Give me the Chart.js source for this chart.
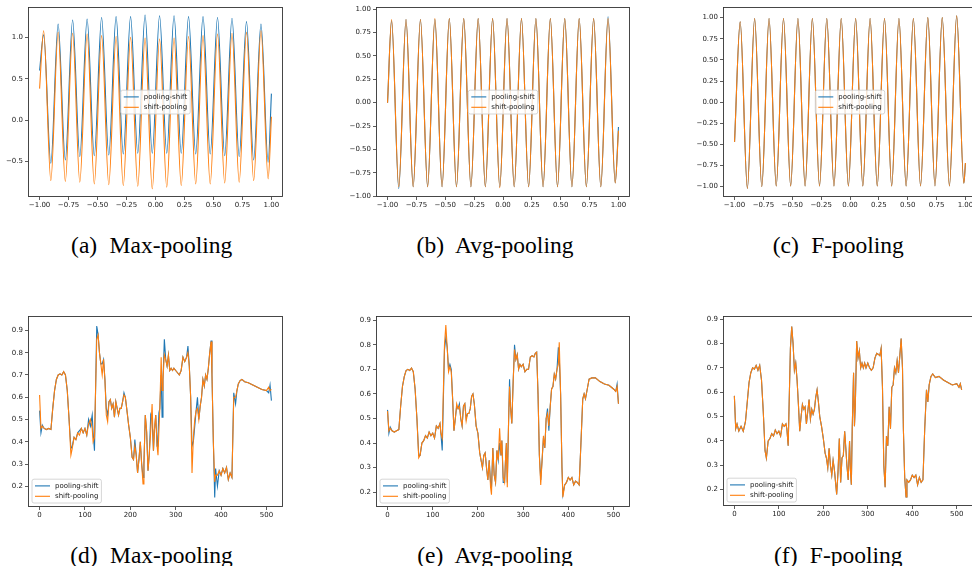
<!DOCTYPE html>
<html>
<head>
<meta charset="utf-8">
<script src="https://cdn.jsdelivr.net/npm/chart.js@4.4.0/dist/chart.umd.min.js"></script>
<style>
  body { margin: 0; width: 972px; height: 566px; overflow: hidden; background: #fff; position: relative; }
  canvas { position: absolute; }
  .cap { position: absolute; font-family: "Liberation Serif", "Times New Roman", serif; font-size: 23.5px;
         line-height: 1; word-spacing: 6.5px; white-space: nowrap; transform: translateX(-50%); color: #000; }
</style>
</head>
<body>
<canvas id="chart-a"></canvas>
<canvas id="chart-b"></canvas>
<canvas id="chart-c"></canvas>
<canvas id="chart-d"></canvas>
<canvas id="chart-e"></canvas>
<canvas id="chart-f"></canvas>
<script>
// Top row: x positions of start, peaks/troughs and end of the waves
const topXsAB = [-1.0, -0.965, -0.903, -0.840, -0.778, -0.715, -0.653, -0.590, -0.528, -0.465, -0.403,
  -0.340, -0.278, -0.215, -0.153, -0.090, -0.028, 0.035, 0.097, 0.160, 0.222, 0.285, 0.347,
  0.410, 0.472, 0.535, 0.597, 0.660, 0.722, 0.785, 0.847, 0.910, 0.972, 1.0];
const topXsC = [-1.0, -0.951, -0.889, -0.826, -0.764, -0.701, -0.639, -0.576, -0.514, -0.451, -0.389,
  -0.326, -0.264, -0.201, -0.139, -0.076, -0.014, 0.049, 0.111, 0.174, 0.236, 0.299, 0.361,
  0.424, 0.486, 0.549, 0.611, 0.674, 0.736, 0.799, 0.861, 0.924, 0.986, 1.0];

// (a) Max-pooling
const aPoolShift = [0.60, 1.03, -0.52, 1.16, -0.48, 1.21, -0.44, 1.22, -0.43, 1.24, -0.42, 1.25, -0.41,
  1.25, -0.40, 1.27, -0.40, 1.26, -0.40, 1.26, -0.40, 1.25, -0.41, 1.25, -0.41, 1.24, -0.43,
  1.23, -0.44, 1.19, -0.48, 1.16, -0.51, 0.32];
const aShiftPool = [0.38, 1.08, -0.73, 1.06, -0.74, 1.05, -0.75, 1.04, -0.77, 1.02, -0.78, 1.01, -0.79,
  1.00, -0.80, 0.99, -0.83, 0.98, -0.81, 0.99, -0.79, 1.01, -0.77, 1.02, -0.77, 1.04, -0.76,
  1.05, -0.75, 1.06, -0.73, 1.08, -0.71, 0.04];
// (b) Avg-pooling
const bPoolShift = [0.0, 0.88, -0.92, 0.89, -0.90, 0.89, -0.90, 0.89, -0.90, 0.90, -0.90, 0.90, -0.90,
  0.90, -0.90, 0.90, -0.90, 0.90, -0.90, 0.90, -0.90, 0.90, -0.90, 0.90, -0.90, 0.90, -0.90,
  0.90, -0.90, 0.90, -0.90, 0.92, -0.86, -0.26];
const bShiftPool = [0.0, 0.89, -0.90, 0.89, -0.90, 0.89, -0.90, 0.90, -0.90, 0.90, -0.90, 0.90, -0.90,
  0.90, -0.90, 0.90, -0.91, 0.90, -0.90, 0.90, -0.90, 0.90, -0.90, 0.90, -0.90, 0.90, -0.90,
  0.90, -0.90, 0.90, -0.90, 0.90, -0.86, -0.30];
// (c) F-pooling
const cPoolShift = [-0.47, 0.95, -1.02, 0.99, -1.00, 0.99, -0.99, 0.99, -0.99, 0.99, -0.99, 0.99, -0.99,
  0.99, -0.99, 0.99, -0.99, 0.99, -0.99, 0.99, -0.99, 0.99, -0.99, 0.99, -0.99, 0.99, -0.99,
  1.00, -0.99, 1.00, -0.99, 1.02, -0.96, -0.72];
const cShiftPool = [-0.47, 0.95, -1.02, 0.99, -1.00, 0.99, -0.99, 0.99, -0.99, 0.99, -0.99, 0.99, -0.99,
  0.99, -0.99, 0.99, -0.99, 0.99, -0.99, 0.99, -0.99, 0.99, -0.99, 0.99, -0.99, 0.99, -0.99,
  1.00, -0.99, 1.00, -0.99, 1.02, -0.96, -0.72];

// Bottom row: sample indices (0..511)
const stepIdx = [0, 3, 6, 10, 15, 20, 25, 29, 33, 37,
  41, 45, 49, 53, 57, 61, 65, 69, 72, 76,
  80, 84, 88, 92, 96, 100, 104, 108, 112, 116,
  118, 121, 126, 129, 132, 135, 138, 141, 144, 147,
  150, 153, 156, 159, 162, 165, 168, 171, 174, 177,
  180, 183, 186, 189, 192, 196, 200, 204, 207, 210,
  213, 216, 219, 222, 225, 228, 230, 233, 236, 239,
  242, 245, 248, 251, 253, 256, 259, 261, 263, 265,
  268, 270, 272, 275, 278, 281, 284, 287, 290, 293,
  296, 300, 304, 308, 312, 316, 320, 324, 327, 330,
  333, 336, 339, 342, 345, 348, 351, 354, 357, 360,
  363, 366, 369, 372, 375, 378, 380, 383, 386, 388,
  392, 396, 400, 404, 408, 412, 416, 420, 424, 428,
  432, 435, 438, 442, 446, 452, 460, 470, 480, 490,
  500, 505, 508, 511];

// (d) Max-pooling
const dPoolShift = [0.54, 0.44, 0.475, 0.46, 0.455, 0.46, 0.455, 0.55, 0.63, 0.68,
  0.70, 0.705, 0.70, 0.715, 0.70, 0.63, 0.50, 0.37, 0.38, 0.42,
  0.41, 0.44, 0.45, 0.46, 0.44, 0.46, 0.43, 0.50, 0.47, 0.52,
  0.44, 0.36, 0.92, 0.88, 0.80, 0.75, 0.75, 0.77, 0.68, 0.55,
  0.52, 0.58, 0.59, 0.55, 0.57, 0.51, 0.58, 0.55, 0.52, 0.55,
  0.55, 0.58, 0.62, 0.60, 0.55, 0.48, 0.42, 0.33, 0.32, 0.41,
  0.34, 0.26, 0.32, 0.40, 0.30, 0.24, 0.30, 0.52, 0.44, 0.27,
  0.35, 0.52, 0.50, 0.36, 0.45, 0.52, 0.38, 0.42, 0.53, 0.55,
  0.70, 0.51, 0.68, 0.86, 0.77, 0.74, 0.79, 0.72, 0.73, 0.72,
  0.73, 0.72, 0.71, 0.70, 0.72, 0.78, 0.76, 0.78, 0.83, 0.74,
  0.60, 0.38, 0.40, 0.47, 0.54, 0.60, 0.50, 0.56, 0.60, 0.68,
  0.65, 0.70, 0.68, 0.73, 0.80, 0.855, 0.70, 0.40, 0.15, 0.28,
  0.20, 0.27, 0.25, 0.28, 0.26, 0.285, 0.23, 0.26, 0.24, 0.62,
  0.57, 0.63, 0.66, 0.675, 0.68, 0.67, 0.665, 0.655, 0.645, 0.635,
  0.63, 0.62, 0.655, 0.585];
const dShiftPool = [0.61, 0.46, 0.47, 0.46, 0.455, 0.46, 0.455, 0.55, 0.63, 0.68,
  0.70, 0.705, 0.70, 0.715, 0.70, 0.63, 0.50, 0.34, 0.37, 0.42,
  0.41, 0.44, 0.43, 0.46, 0.44, 0.46, 0.43, 0.48, 0.50, 0.46,
  0.40, 0.42, 0.86, 0.88, 0.80, 0.75, 0.70, 0.77, 0.68, 0.52,
  0.49, 0.58, 0.59, 0.55, 0.57, 0.51, 0.58, 0.55, 0.52, 0.55,
  0.55, 0.58, 0.61, 0.60, 0.55, 0.48, 0.42, 0.33, 0.32, 0.38,
  0.34, 0.26, 0.32, 0.40, 0.30, 0.21, 0.30, 0.52, 0.45, 0.27,
  0.35, 0.45, 0.57, 0.36, 0.45, 0.52, 0.38, 0.34, 0.45, 0.55,
  0.78, 0.63, 0.68, 0.79, 0.77, 0.74, 0.79, 0.72, 0.73, 0.72,
  0.73, 0.72, 0.71, 0.70, 0.72, 0.78, 0.76, 0.78, 0.80, 0.74,
  0.60, 0.26, 0.42, 0.50, 0.54, 0.55, 0.50, 0.56, 0.60, 0.68,
  0.65, 0.70, 0.68, 0.73, 0.80, 0.85, 0.70, 0.40, 0.22, 0.25,
  0.25, 0.27, 0.25, 0.28, 0.26, 0.285, 0.23, 0.26, 0.24, 0.60,
  0.60, 0.63, 0.66, 0.675, 0.68, 0.67, 0.665, 0.655, 0.645, 0.635,
  0.63, 0.645, 0.63, 0.635];
// (e) Avg-pooling
const ePoolShift = [0.535, 0.44, 0.465, 0.45, 0.445, 0.45, 0.455, 0.55, 0.63, 0.67,
  0.695, 0.70, 0.695, 0.705, 0.69, 0.62, 0.50, 0.35, 0.35, 0.40,
  0.41, 0.43, 0.42, 0.445, 0.43, 0.44, 0.42, 0.47, 0.46, 0.48,
  0.44, 0.37, 0.78, 0.83, 0.79, 0.70, 0.72, 0.70, 0.58, 0.45,
  0.50, 0.55, 0.54, 0.56, 0.50, 0.47, 0.55, 0.56, 0.50, 0.52,
  0.52, 0.54, 0.59, 0.60, 0.56, 0.47, 0.44, 0.36, 0.33, 0.30,
  0.35, 0.36, 0.30, 0.25, 0.33, 0.24, 0.22, 0.38, 0.27, 0.24,
  0.37, 0.33, 0.40, 0.35, 0.41, 0.24, 0.24, 0.33, 0.40, 0.24,
  0.50, 0.66, 0.55, 0.48, 0.65, 0.80, 0.74, 0.76, 0.70, 0.72,
  0.71, 0.72, 0.69, 0.70, 0.70, 0.75, 0.755, 0.75, 0.765, 0.77,
  0.60, 0.35, 0.25, 0.33, 0.42, 0.38, 0.50, 0.54, 0.45, 0.55,
  0.62, 0.63, 0.68, 0.66, 0.70, 0.79, 0.75, 0.60, 0.30, 0.19,
  0.23, 0.24, 0.26, 0.25, 0.26, 0.23, 0.245, 0.24, 0.23, 0.40,
  0.58, 0.60, 0.58, 0.62, 0.66, 0.665, 0.665, 0.65, 0.64, 0.635,
  0.62, 0.61, 0.64, 0.56];
const eShiftPool = [0.53, 0.45, 0.46, 0.45, 0.445, 0.45, 0.455, 0.55, 0.63, 0.67,
  0.695, 0.70, 0.695, 0.705, 0.69, 0.62, 0.50, 0.34, 0.35, 0.40,
  0.41, 0.43, 0.42, 0.445, 0.43, 0.44, 0.42, 0.47, 0.46, 0.48,
  0.44, 0.42, 0.80, 0.88, 0.79, 0.69, 0.71, 0.69, 0.58, 0.45,
  0.50, 0.56, 0.54, 0.55, 0.50, 0.47, 0.55, 0.56, 0.49, 0.52,
  0.52, 0.54, 0.59, 0.60, 0.56, 0.47, 0.44, 0.36, 0.33, 0.30,
  0.35, 0.36, 0.30, 0.25, 0.33, 0.22, 0.19, 0.38, 0.27, 0.24,
  0.37, 0.33, 0.46, 0.35, 0.41, 0.26, 0.24, 0.33, 0.40, 0.22,
  0.50, 0.63, 0.55, 0.48, 0.65, 0.78, 0.74, 0.76, 0.70, 0.72,
  0.71, 0.72, 0.69, 0.70, 0.70, 0.75, 0.755, 0.75, 0.765, 0.77,
  0.60, 0.35, 0.23, 0.33, 0.43, 0.38, 0.50, 0.52, 0.47, 0.55,
  0.62, 0.63, 0.68, 0.66, 0.70, 0.72, 0.81, 0.60, 0.30, 0.18,
  0.23, 0.24, 0.26, 0.25, 0.26, 0.23, 0.245, 0.24, 0.23, 0.40,
  0.58, 0.60, 0.58, 0.62, 0.66, 0.665, 0.665, 0.65, 0.64, 0.635,
  0.62, 0.61, 0.63, 0.56];
// (f) F-pooling (both curves coincide)
const fPoolShift = [0.585, 0.45, 0.47, 0.44, 0.46, 0.44, 0.48, 0.56, 0.64, 0.68,
  0.70, 0.695, 0.71, 0.69, 0.71, 0.65, 0.52, 0.36, 0.33, 0.40,
  0.41, 0.43, 0.42, 0.445, 0.43, 0.44, 0.42, 0.47, 0.46, 0.47,
  0.45, 0.38, 0.78, 0.87, 0.80, 0.69, 0.72, 0.65, 0.55, 0.44,
  0.50, 0.55, 0.53, 0.54, 0.47, 0.52, 0.57, 0.49, 0.53, 0.51,
  0.53, 0.58, 0.61, 0.56, 0.50, 0.46, 0.41, 0.35, 0.33, 0.29,
  0.37, 0.30, 0.26, 0.32, 0.28, 0.22, 0.18, 0.27, 0.41, 0.23,
  0.33, 0.34, 0.44, 0.36, 0.30, 0.24, 0.40, 0.28, 0.22, 0.45,
  0.68, 0.46, 0.55, 0.81, 0.74, 0.77, 0.70, 0.72, 0.70, 0.72,
  0.70, 0.72, 0.70, 0.69, 0.70, 0.74, 0.76, 0.755, 0.75, 0.78,
  0.62, 0.30, 0.21, 0.42, 0.38, 0.54, 0.45, 0.62, 0.63, 0.70,
  0.68, 0.73, 0.68, 0.75, 0.82, 0.70, 0.45, 0.25, 0.17, 0.24,
  0.23, 0.24, 0.26, 0.25, 0.26, 0.22, 0.25, 0.23, 0.24, 0.45,
  0.61, 0.56, 0.63, 0.665, 0.675, 0.66, 0.665, 0.65, 0.64, 0.63,
  0.635, 0.62, 0.635, 0.61];
const fShiftPool = [0.585, 0.45, 0.47, 0.44, 0.46, 0.44, 0.48, 0.56, 0.64, 0.68,
  0.70, 0.695, 0.71, 0.69, 0.71, 0.65, 0.52, 0.36, 0.33, 0.40,
  0.41, 0.43, 0.42, 0.445, 0.43, 0.44, 0.42, 0.47, 0.46, 0.47,
  0.45, 0.38, 0.78, 0.87, 0.80, 0.69, 0.72, 0.65, 0.55, 0.44,
  0.50, 0.55, 0.53, 0.54, 0.47, 0.52, 0.57, 0.49, 0.53, 0.51,
  0.53, 0.58, 0.61, 0.56, 0.50, 0.46, 0.41, 0.35, 0.33, 0.29,
  0.37, 0.30, 0.26, 0.32, 0.28, 0.22, 0.18, 0.27, 0.41, 0.23,
  0.33, 0.34, 0.44, 0.36, 0.30, 0.24, 0.40, 0.28, 0.22, 0.45,
  0.68, 0.46, 0.55, 0.81, 0.74, 0.77, 0.70, 0.72, 0.70, 0.72,
  0.70, 0.72, 0.70, 0.69, 0.70, 0.74, 0.76, 0.755, 0.75, 0.78,
  0.62, 0.30, 0.21, 0.42, 0.38, 0.54, 0.45, 0.62, 0.63, 0.70,
  0.68, 0.73, 0.68, 0.75, 0.82, 0.70, 0.45, 0.25, 0.17, 0.24,
  0.23, 0.24, 0.26, 0.25, 0.26, 0.22, 0.25, 0.23, 0.24, 0.45,
  0.61, 0.56, 0.63, 0.665, 0.675, 0.66, 0.665, 0.65, 0.64, 0.63,
  0.635, 0.62, 0.635, 0.61];

// Tick labels
const topXTicks = [-1, -0.75, -0.5, -0.25, 0, 0.25, 0.5, 0.75, 1];
const aYTicks = [-0.5, 0, 0.5, 1.0];
const bcYTicks = [-1, -0.75, -0.5, -0.25, 0, 0.25, 0.5, 0.75, 1];
const bottomXTicks = [0, 100, 200, 300, 400, 500];
const bottomYTicks = [0.2, 0.3, 0.4, 0.5, 0.6, 0.7, 0.8, 0.9];
const seriesNames = ['pooling-shift', 'shift-pooling'];
const captions = ['(a) Max-pooling', '(b) Avg-pooling', '(c) F-pooling',
  '(d) Max-pooling', '(e) Avg-pooling', '(f) F-pooling'];

Chart.defaults.font.family = '"DejaVu Sans", sans-serif';
Chart.defaults.font.size = 7;
Chart.defaults.color = '#222';

// Frame around the plot area and a matplotlib-like legend box
const frameLegend = {
  id: 'frameLegend',
  afterDatasetsDraw(chart, args, opts) {
    const ctx = chart.ctx, area = chart.chartArea;
    ctx.save();
    ctx.strokeStyle = '#333';
    ctx.lineWidth = 0.9;
    ctx.strokeRect(Math.round(area.left) + 0.5, Math.round(area.top) + 0.5,
      Math.round(area.right - area.left) - 1, Math.round(area.bottom - area.top) - 1);

    ctx.font = '7px "DejaVu Sans"';
    const sets = chart.data.datasets;
    const textW = Math.max(...sets.map(d => ctx.measureText(d.label).width));
    const w = 3 + 15 + 5 + textW + 3, h = sets.length * 10.4 + 3;
    let x, y;
    if (opts.where === 'center') {
      x = (area.left + area.right - w) / 2;
      y = (area.top + area.bottom - h) / 2;
    } else {
      x = area.left + 4;
      y = area.bottom - 4 - h;
    }
    ctx.fillStyle = 'rgba(255,255,255,0.8)';
    ctx.strokeStyle = '#cccccc';
    ctx.lineWidth = 0.8;
    ctx.beginPath();
    ctx.roundRect(x, y, w, h, 2);
    ctx.fill();
    ctx.stroke();
    sets.forEach((d, i) => {
      const cy = y + 6.7 + i * 10.4;
      ctx.strokeStyle = d.borderColor;
      ctx.lineWidth = 1.1;
      ctx.beginPath();
      ctx.moveTo(x + 3, cy);
      ctx.lineTo(x + 18, cy);
      ctx.stroke();
      ctx.fillStyle = '#222';
      ctx.textBaseline = 'middle';
      ctx.fillText(d.label, x + 23, cy);
    });
    ctx.restore();
  }
};

function fmt(decimals) {
  return v => (v < 0 ? '\u2212' : '') + Math.abs(v).toFixed(decimals);
}

function axis(range, ticks, decimals, isX) {
  return {
    type: 'linear',
    min: range[0],
    max: range[1],
    afterBuildTicks: a => { a.ticks = ticks.map(v => ({ value: v })); },
    afterFit: s => { if (isX) s.height = 14; else s.width = 30; },
    border: { display: false },
    grid: { display: true, drawOnChartArea: false, drawTicks: true, tickLength: 3, color: '#333', lineWidth: 0.8 },
    ticks: { callback: fmt(decimals), autoSkip: false, maxRotation: 0, padding: isX ? 1 : 2, color: '#222' }
  };
}

// Panel layout: plot frame [left, top, width, height] and caption centre
const panels = [
  { id: 'chart-a', frame: [28, 7, 255, 190], xs: topXsAB, ps: aPoolShift, sp: aShiftPool, xr: [-1.1, 1.1], yr: [-0.929, 1.364],
    xt: topXTicks, yt: aYTicks, xd: 2, yd: 1, legend: 'center', smooth: true, cap: [151.7, 233.6] },
  { id: 'chart-b', frame: [376, 7, 254, 190], xs: topXsAB, ps: bPoolShift, sp: bShiftPool, xr: [-1.1, 1.1], yr: [-1.01, 1.022],
    xt: topXTicks, yt: bcYTicks, xd: 2, yd: 2, legend: 'center', smooth: true, cap: [495, 233.6] },
  { id: 'chart-c', frame: [723, 7, 254, 190], xs: topXsC, ps: cPoolShift, sp: cShiftPool, xr: [-1.1, 1.1], yr: [-1.122, 1.123],
    xt: topXTicks, yt: bcYTicks, xd: 2, yd: 2, legend: 'center', smooth: true, cap: [838.3, 233.6] },
  { id: 'chart-d', frame: [28, 316, 255, 191], xs: stepIdx, ps: dPoolShift, sp: dShiftPool, xr: [-25.55, 536.55], yr: [0.107, 0.964],
    xt: bottomXTicks, yt: bottomYTicks, xd: 0, yd: 1, legend: 'lowerleft', smooth: false, cap: [151.5, 543.6] },
  { id: 'chart-e', frame: [376, 316, 254, 191], xs: stepIdx, ps: ePoolShift, sp: eShiftPool, xr: [-25.55, 536.55], yr: [0.14, 0.916],
    xt: bottomXTicks, yt: bottomYTicks, xd: 0, yd: 1, legend: 'lowerleft', smooth: false, cap: [495, 543.6] },
  { id: 'chart-f', frame: [723, 316, 250, 190], xs: stepIdx, ps: fPoolShift, sp: fShiftPool, xr: [-25.55, 536.55], yr: [0.133, 0.912],
    xt: bottomXTicks, yt: bottomYTicks, xd: 0, yd: 1, legend: 'lowerleft', smooth: false, cap: [838.3, 543.6] }
];

panels.forEach((p, k) => {
  const canvas = document.getElementById(p.id);
  const [fl, ft, fw, fh] = p.frame;
  canvas.width = fw + 30 + 10;
  canvas.height = fh + 6 + 14;
  canvas.style.left = (fl - 30) + 'px';
  canvas.style.top = (ft - 6) + 'px';

  const line = (ys, name, color, order) => ({
    label: name,
    data: p.xs.map((x, i) => ({ x: x, y: ys[i] })),
    borderColor: color,
    backgroundColor: color,
    borderWidth: 1.1,
    pointRadius: 0,
    fill: false,
    order: order,
    tension: 0,
    cubicInterpolationMode: p.smooth ? 'monotone' : 'default'
  });

  new Chart(canvas.getContext('2d'), {
    type: 'line',
    data: {
      datasets: [
        line(p.ps, seriesNames[0], '#1f77b4', 1),
        line(p.sp, seriesNames[1], '#ff7f0e', 0)
      ]
    },
    options: {
      responsive: false,
      animation: false,
      events: [],
      layout: { padding: { top: 6, right: 10, left: 0, bottom: 0 } },
      scales: {
        x: axis(p.xr, p.xt, p.xd, true),
        y: axis(p.yr, p.yt, p.yd, false)
      },
      plugins: {
        legend: { display: false },
        tooltip: { enabled: false },
        frameLegend: { where: p.legend }
      }
    },
    plugins: [frameLegend]
  });

  const cap = document.createElement('div');
  cap.className = 'cap';
  cap.textContent = captions[k];
  cap.style.left = p.cap[0] + 'px';
  cap.style.top = p.cap[1] + 'px';
  document.body.appendChild(cap);
});
</script>
</body>
</html>
